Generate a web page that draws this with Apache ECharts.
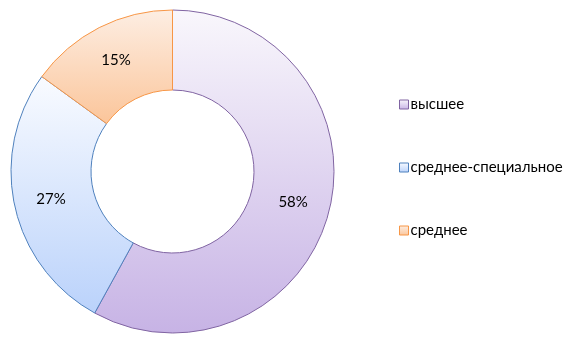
<!DOCTYPE html>
<html>
<head>
<meta charset="utf-8">
<script src="https://cdn.jsdelivr.net/npm/echarts@6/dist/echarts.min.js"></script>
<style>
  html, body { margin: 0; padding: 0; background: #fff; }
  #chart { width: 566px; height: 338px; }
</style>
</head>
<body>
<div id="chart"></div>
<script>
// Education level shares
const categories = ['высшее', 'среднее-специальное', 'среднее'];
const shares = [58, 27, 15];

// Per-slice vertical gradient (top, bottom) and outline colour
const fillTop = ['#f9f7fc', '#f9fbff', '#fdeee3'];
const fillBottom = ['#c7b3e5', '#bad2fb', '#fbc59a'];
const outline = ['#8064a2', '#4f81bd', '#f79646'];

function grad(i) {
  return new echarts.graphic.LinearGradient(0, 0, 0, 1, [
    { offset: 0, color: fillTop[i] },
    { offset: 1, color: fillBottom[i] }
  ]);
}

const chart = echarts.init(document.getElementById('chart'), null, { renderer: 'canvas' });

chart.setOption({
  animation: false,
  textStyle: { fontFamily: 'Lato' },
  legend: {
    orient: 'vertical',
    left: 394,
    top: 92,
    itemWidth: 9,
    itemHeight: 9,
    itemGap: 48,
    icon: 'rect',
    textStyle: { fontSize: 15, color: '#000', fontFamily: 'Lato', padding: [0, 0, 0, -3] },
    data: categories.map((name, i) => ({
      name,
      itemStyle: { color: grad(i), borderColor: outline[i], borderWidth: 1 }
    }))
  },
  series: [{
    type: 'pie',
    center: [172.5, 171.5],
    radius: [81.5, 161.5],
    startAngle: 90,
    clockwise: true,
    avoidLabelOverlap: false,
    label: {
      show: true,
      position: 'inside',
      formatter: '{c}%',
      fontSize: 15,
      color: '#000',
      fontFamily: 'Lato'
    },
    labelLine: { show: false },
    emphasis: { disabled: true },
    data: categories.map((name, i) => ({
      name,
      value: shares[i],
      itemStyle: { color: grad(i), borderColor: outline[i], borderWidth: 1 }
    }))
  }]
});
</script>
</body>
</html>
